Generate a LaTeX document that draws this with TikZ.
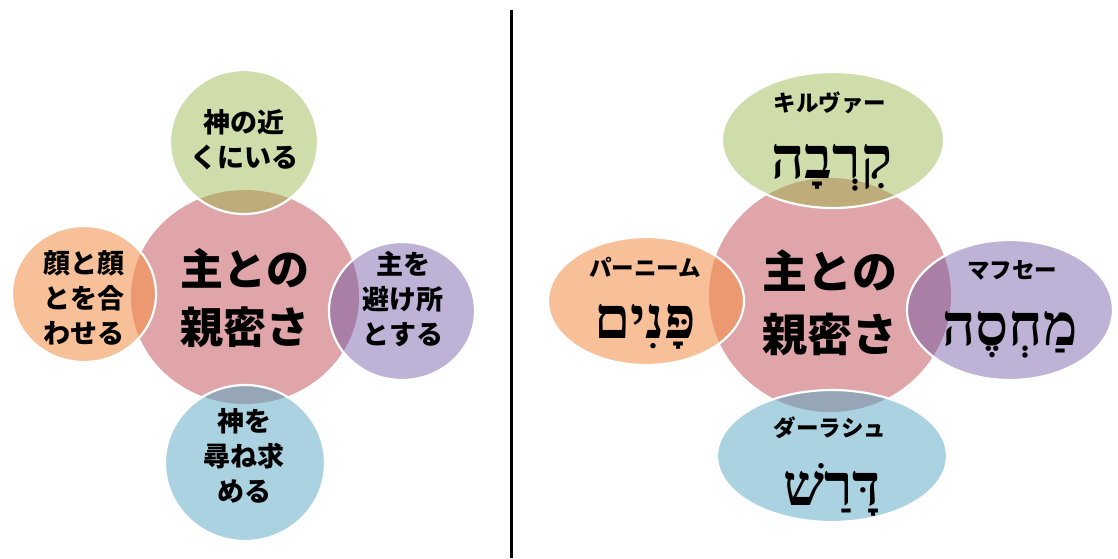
\documentclass[tikz,border=0pt]{standalone}
\usepackage{fontspec}
\newfontfamily\jp{Noto Sans CJK JP}
\newfontfamily\heb[Script=Hebrew]{Liberation Serif}
\TeXXeTstate=1
\definecolor{cpink}{RGB}{224,165,168}
\definecolor{cgreen}{RGB}{207,221,170}
\definecolor{cgreenov}{RGB}{190,172,122}
\definecolor{corange}{RGB}{248,192,152}
\definecolor{corangeov}{RGB}{236,152,112}
\definecolor{cpurple}{RGB}{190,178,215}
\definecolor{cpurpleov}{RGB}{170,127,166}
\definecolor{cblue}{RGB}{170,210,225}
\definecolor{cblueov}{RGB}{150,166,182}
\tikzset{
  Lc/.style={insert path={(245,297) ellipse [x radius=114, y radius=107]}},
  Lt/.style={insert path={(244,142) ellipse [x radius=74, y radius=72]}},
  Ll/.style={insert path={(84,294) ellipse [x radius=72, y radius=68]}},
  Lr/.style={insert path={(402,311) ellipse [x radius=73, y radius=69]}},
  Lb/.style={insert path={(245,463) ellipse [x radius=80, y radius=78]}},
  Rc/.style={insert path={(830,295) ellipse [x radius=121, y radius=117]}},
  Rt/.style={insert path={(833,140) ellipse [x radius=111, y radius=68]}},
  Rl/.style={insert path={(646,301) ellipse [x radius=98, y radius=64]}},
  Rr/.style={insert path={(1010,310) ellipse [x radius=103, y radius=70]}},
  Rb/.style={insert path={(832,456) ellipse [x radius=115, y radius=66]}},
  rim/.style={draw=white, line width=2.2},
  jbig/.style={align=center, inner sep=0, text=black, font=\jp\bfseries\fontsize{43}{58}\selectfont},
  jsmall/.style={align=center, inner sep=0, text=black, font=\jp\bfseries\fontsize{27}{35}\selectfont},
  kana/.style={inner sep=0, text=black, font=\jp\bfseries\fontsize{22.5}{26}\selectfont},
  hebw/.style={inner sep=0, anchor=base, text=black, font=\heb\bfseries\fontsize{58}{62}\selectfont}
}
\begin{document}
\begin{tikzpicture}[x=1pt,y=-1pt]
\useasboundingbox (0,0) rectangle (1118,558);
\fill[white] (0,0) rectangle (1118,558);
% ---------- left diagram ----------
\fill[cpink, Lc];
\fill[cgreen, Lt];
\fill[corange, Ll];
\fill[cpurple, Lr];
\fill[cblue, Lb];
\begin{scope}
  \clip[Lc];
  \fill[cgreenov, Lt];
  \fill[corangeov, Ll];
  \fill[cpurpleov, Lr];
  \fill[cblueov, Lb];
\end{scope}
\path[rim, Lt];
\path[rim, Ll];
\path[rim, Lr];
\path[rim, Lb];
\node[jbig] (lc) at (245,298) {主との\\親密さ};
\node[jsmall] (lt) at (244,140) {神の近\\くにいる};
\node[jsmall] (ll) at (84,298) {顔と顔\\とを合\\わせる};
\node[jsmall] (lr) at (403,299) {主を\\避け所\\とする};
\node[jsmall] (lb) at (244,456) {神を\\尋ね求\\める};
% ---------- divider ----------
\coordinate (vt) at (511,10);
\coordinate (vb) at (511,558);
\draw[black, line width=3] (vt) -- (vb);
% ---------- right diagram ----------
\fill[cpink, Rc];
\fill[cgreen, Rt];
\fill[corange, Rl];
\fill[cpurple, Rr];
\fill[cblue, Rb];
\begin{scope}
  \clip[Rc];
  \fill[cgreenov, Rt];
  \fill[corangeov, Rl];
  \fill[cpurpleov, Rr];
  \fill[cblueov, Rb];
\end{scope}
\path[rim, Rt];
\path[rim, Rl];
\path[rim, Rr];
\path[rim, Rb];
\node[jbig, font=\jp\bfseries\fontsize{45}{63}\selectfont] (rc) at (830,303) {主との\\親密さ};
\node[kana] (rtk) at (830,103) {キルヴァー};
\node[hebw] (rth) at (832,178) {\beginR קִרְבָה\endR};
\node[kana] (rlk) at (645,267) {パーニーム};
\node[hebw] (rlh) at (645,338) {\beginR פָּנִים\endR};
\node[kana] (rrk) at (1012,270) {マフセー};
\node[hebw] (rrh) at (1010,345) {\beginR מַחְסֶה\endR};
\node[kana] (rbk) at (830,428) {ダーラシュ};
\node[hebw] (rbh) at (832,505) {\beginR דָּרַשׁ\endR};
\end{tikzpicture}
\end{document}
